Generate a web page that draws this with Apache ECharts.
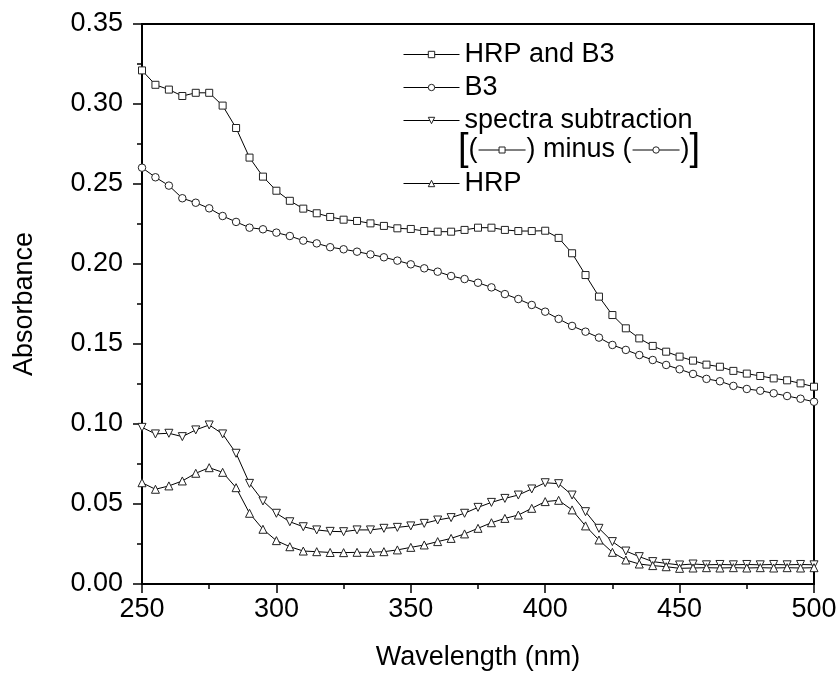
<!DOCTYPE html>
<html>
<head>
<meta charset="utf-8">
<script src="https://cdn.jsdelivr.net/npm/echarts@6/dist/echarts.min.js"></script>
<style>
html,body{margin:0;padding:0;background:#fff;}
#chart{width:840px;height:677px;}
</style>
</head>
<body>
<div id="chart"></div>
<script>
// ---- data ----
const wavelength = [250,255,260,265,270,275,280,285,290,295,300,305,310,315,320,325,330,335,340,345,350,355,360,365,370,375,380,385,390,395,400,405,410,415,420,425,430,435,440,445,450,455,460,465,470,475,480,485,490,495,500];
const hrpAndB3 = [0.321,0.312,0.309,0.305,0.307,0.307,0.299,0.285,0.2665,0.2546,0.2458,0.2395,0.2346,0.2317,0.2294,0.2277,0.2269,0.2254,0.2238,0.2223,0.2219,0.2206,0.2202,0.2202,0.2213,0.2227,0.2227,0.2213,0.2206,0.2206,0.2208,0.2163,0.2067,0.1931,0.1796,0.1681,0.1598,0.1535,0.1488,0.1452,0.1421,0.1396,0.1371,0.1358,0.1332,0.1315,0.13,0.1285,0.1273,0.1254,0.1233];
const b3 = [0.2602,0.2542,0.249,0.2411,0.2383,0.2348,0.23,0.2263,0.2227,0.2217,0.2196,0.2175,0.2146,0.2129,0.2105,0.2092,0.2077,0.206,0.2042,0.2021,0.1998,0.1973,0.1952,0.1925,0.1906,0.1883,0.1854,0.1812,0.1781,0.1744,0.1702,0.1657,0.1613,0.1577,0.154,0.1494,0.1463,0.1431,0.14,0.1369,0.1342,0.1313,0.1282,0.1267,0.1238,0.1219,0.1208,0.1192,0.1175,0.1158,0.1139];
const subtraction = [0.0979,0.0938,0.0942,0.0921,0.0963,0.0994,0.0938,0.0817,0.0629,0.0519,0.0442,0.0389,0.0358,0.0338,0.0329,0.0327,0.0338,0.0338,0.0348,0.0354,0.0363,0.0379,0.04,0.0415,0.0442,0.0479,0.051,0.0535,0.0556,0.0594,0.0633,0.0627,0.0556,0.0452,0.0348,0.0265,0.0206,0.0171,0.014,0.0129,0.0119,0.0125,0.012,0.0122,0.012,0.0122,0.012,0.0122,0.012,0.0122,0.012];
const hrp = [0.0633,0.0592,0.0613,0.0644,0.0692,0.0727,0.0698,0.0602,0.0442,0.0342,0.0271,0.0233,0.0206,0.0202,0.0197,0.0196,0.0198,0.0198,0.0202,0.0213,0.0229,0.0244,0.0265,0.0285,0.0313,0.0348,0.0383,0.041,0.0431,0.0473,0.0515,0.0523,0.0463,0.0363,0.0275,0.0198,0.015,0.0125,0.0115,0.0108,0.0098,0.01,0.0102,0.01,0.0102,0.01,0.0102,0.01,0.0102,0.01,0.0102];
const seriesNames = ['HRP and B3','B3','spectra subtraction','HRP'];
const xTitle = 'Wavelength (nm)';
const yTitle = 'Absorbance';

// ---- style ----
const FONT = 'Liberation Sans, Arial, Helvetica, sans-serif';
const FS = 27;
const pairs = v => wavelength.map((w,i)=>[w, v[i]]);
const mk = (name, data, symbol, size, rot) => ({
  name, type:'line', data: pairs(data), symbol, symbolSize: size, symbolRotate: rot||0,
  lineStyle:{color:'#000', width:1},
  itemStyle:{color:'#fff', borderColor:'#222', borderWidth:1},
  z: 3
});

// measure text for the custom legend row
const cv = document.createElement('canvas').getContext('2d');
function tw(t, fs){ cv.font = fs + 'px ' + FONT; return cv.measureText(t).width; }

const rowY = 150;
const g = [];
let x = 458;
function txt(t, fs){ g.push({type:'text', style:{text:t, x:x, y:rowY, fontSize:fs, fontFamily:FONT, fill:'#000', verticalAlign:'middle', align:'left'}}); x += tw(t, fs); }
function seg(kind){
  const L = 48, x1 = x + 1, x2 = x + L, cx = (x1+x2)/2;
  g.push({type:'line', shape:{x1:x1, y1:rowY, x2:x2, y2:rowY}, style:{stroke:'#000', lineWidth:1}});
  if (kind==='rect') g.push({type:'rect', shape:{x:cx-3, y:rowY-3, width:6, height:6}, style:{fill:'#fff', stroke:'#222', lineWidth:1}});
  else g.push({type:'circle', shape:{cx:cx, cy:rowY, r:3.2}, style:{fill:'#fff', stroke:'#222', lineWidth:1}});
  x = x2 + 1;
}
txt('[', 38); txt('(', FS); seg('rect'); txt(') minus (', FS); seg('circle'); txt(')', FS); txt(']', 38);

const legendCommon = {
  orient:'vertical', left:398, itemWidth:56, itemHeight:8, itemGap:6,
  lineStyle:{width:1, color:'#000'},
  itemStyle:{borderWidth:1},
  textStyle:{color:'#000', fontSize:FS, fontFamily:FONT, lineHeight:26, padding:[0,0,0,0]},
  selectedMode:false
};

const chart = echarts.init(document.getElementById('chart'), null, {renderer:'canvas'});
chart.setOption({
  animation:false,
  backgroundColor:'#fff',
  grid:{left:142, right:26, top:24, bottom:93, show:true, borderColor:'#000', borderWidth:2, backgroundColor:'transparent'},
  legend:[
    Object.assign({}, legendCommon, {top:36, data:seriesNames.slice(0,3)}),
    Object.assign({}, legendCommon, {top:165, data:[seriesNames[3]]})
  ],
  graphic: g,
  xAxis:{
    type:'value', min:250, max:500, interval:50,
    name:xTitle, nameLocation:'middle', nameGap:60,
    nameTextStyle:{color:'#000', fontSize:FS, fontFamily:FONT},
    axisLine:{show:true, lineStyle:{color:'#000', width:2}},
    axisTick:{show:true, inside:false, length:9, lineStyle:{color:'#000', width:1.5}},
    minorTick:{show:true, splitNumber:2, length:5, lineStyle:{color:'#000', width:1.5}},
    axisLabel:{color:'#000', fontSize:FS, fontFamily:FONT, margin:12},
    splitLine:{show:false}
  },
  yAxis:{
    type:'value', min:0, max:0.35, interval:0.05,
    name:yTitle, nameLocation:'middle', nameGap:104,
    nameTextStyle:{color:'#000', fontSize:FS, fontFamily:FONT},
    axisLine:{show:true, lineStyle:{color:'#000', width:2}},
    axisTick:{show:true, inside:false, length:9, lineStyle:{color:'#000', width:1.5}},
    minorTick:{show:true, splitNumber:2, length:5, lineStyle:{color:'#000', width:1.5}},
    axisLabel:{color:'#000', fontSize:FS, fontFamily:FONT, margin:19, formatter:v=>v.toFixed(2)},
    splitLine:{show:false}
  },
  series:[
    mk(seriesNames[0], hrpAndB3, 'rect', 7),
    mk(seriesNames[1], b3, 'circle', 7.5),
    mk(seriesNames[2], subtraction, 'triangle', 8, 180),
    mk(seriesNames[3], hrp, 'triangle', 8)
  ]
});
</script>
</body>
</html>
